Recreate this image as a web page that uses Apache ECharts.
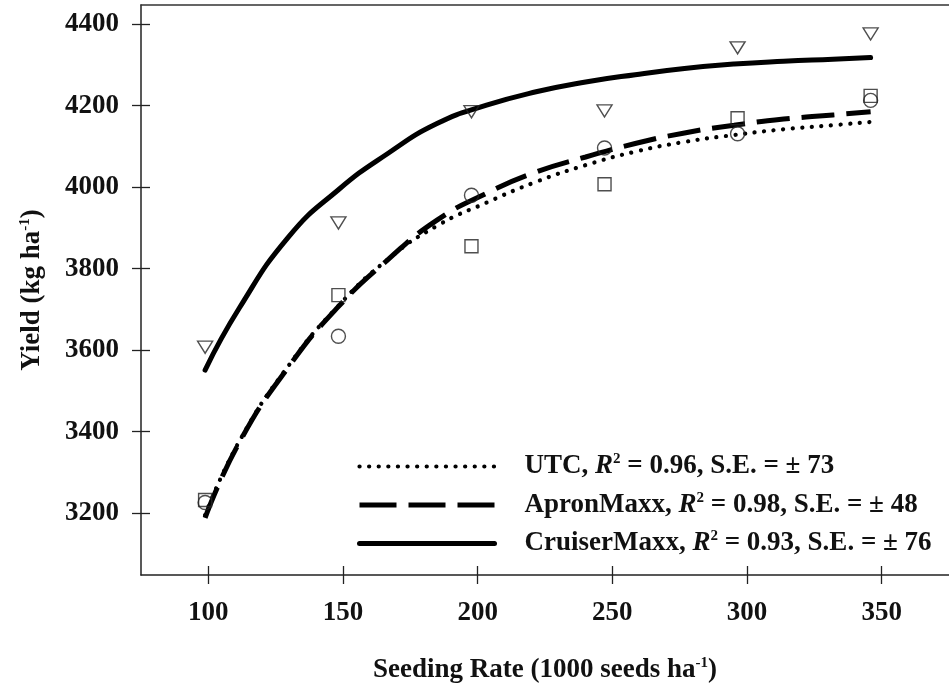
<!DOCTYPE html>
<html>
<head>
<meta charset="utf-8">
<script src="https://cdn.jsdelivr.net/npm/echarts@6/dist/echarts.min.js"></script>
<style>
html,body{margin:0;padding:0;background:#fff;}
#c{width:949px;height:689px;}
</style>
</head>
<body>
<div id="c"></div>
<script>
// Observed means (seeding rate in 1000 seeds/ha)
const rates = [98.8, 148.3, 197.7, 247.1, 296.5, 345.9];
const utcObs = [3226, 3634, 3980, 4096, 4131, 4213];
const apronObs = [3232, 3735, 3855, 4007, 4169, 4224];
const cruiserObs = [3607, 3912, 4185, 4187, 4342, 4376];

// Fitted curves
const fitX = [98.8, 111.4, 129.8, 148.2, 166.5, 184.9, 203.3, 221.7, 240.1, 258.5, 276.8, 295.2, 313.6, 331.9, 345.9];
const utcFit = [3195, 3375, 3562, 3708, 3822, 3905, 3962, 4013, 4054, 4087, 4111, 4128, 4142, 4152, 4160];
const apronFit = [3188, 3372, 3559, 3706, 3821, 3919, 3985, 4037, 4074, 4107, 4133, 4152, 4167, 4177, 4185];
const cruiserFit = [3551, 3702, 3878, 3993, 4082, 4156, 4201, 4234, 4258, 4276, 4291, 4302, 4309, 4314, 4318];

const xTicks = [100, 150, 200, 250, 300, 350];
const yTicks = [3200, 3400, 3600, 3800, 4000, 4200, 4400];

const seriesNames = ['UTC', 'ApronMaxx', 'CruiserMaxx'];
const r2Values = ['0.96', '0.98', '0.93'];
const seValues = ['73', '48', '76'];

const FONT = 'Liberation Serif';
const INK = '#111';
const FS = 27;

function pairs(xs, ys) { return xs.map((x, i) => [x, ys[i]]); }

const dotStyle = { color: '#000', width: 4.2, type: [0.1, 9.5], cap: 'round' };
const dashStyle = { color: '#000', width: 5, type: [33, 12], cap: 'butt' };
const solidStyle = { color: '#000', width: 5, type: 'solid', cap: 'round' };

const gridRect = { left: 141, top: 5, width: 816, height: 570 };
const xRange = { min: 75, max: 375 };
const yRange = { min: 3048, max: 4447 };

const supStyle = { fontFamily: FONT, fontWeight: 'bold', fontSize: 15, color: INK, padding: [0, 0, 14, 0] };
const txtStyle = { fontFamily: FONT, fontWeight: 'bold', fontSize: FS, color: INK };

const chart = echarts.init(document.getElementById('c'), null, { renderer: 'canvas' });

const option = {
  backgroundColor: '#fff',
  animation: false,
  grid: [
    Object.assign({}, gridRect),
    Object.assign({}, gridRect)
  ],
  xAxis: [
    {
      gridIndex: 0, type: 'value', position: 'bottom', min: xRange.min, max: xRange.max,
      splitLine: { show: false },
      axisLine: { show: true, lineStyle: { color: '#222', width: 1.5 } },
      axisTick: { show: true, inside: false, length: 9, customValues: xTicks, lineStyle: { color: '#222', width: 1.3 } },
      axisLabel: { show: true, customValues: xTicks, margin: 25, color: INK, fontFamily: FONT, fontWeight: 'bold', fontSize: FS,
        formatter: v => String(v) },
      name: '{t|Seeding Rate (1000 seeds ha}{sup|-1}{t|)}',
      nameLocation: 'middle', nameGap: 81,
      nameTextStyle: { rich: { t: txtStyle, sup: supStyle } }
    },
    {
      gridIndex: 0, type: 'value', position: 'top', min: xRange.min, max: xRange.max,
      splitLine: { show: false },
      axisLine: { show: true, lineStyle: { color: '#333', width: 1.5 } },
      axisTick: { show: false }, axisLabel: { show: false }
    },
    {
      gridIndex: 1, type: 'value', position: 'bottom', min: xRange.min, max: xRange.max,
      splitLine: { show: false },
      axisLine: { show: false },
      axisTick: { show: true, inside: true, length: 9, customValues: xTicks, lineStyle: { color: '#222', width: 1.3 } },
      axisLabel: { show: false }
    }
  ],
  yAxis: [
    {
      gridIndex: 0, type: 'value', position: 'left', min: yRange.min, max: yRange.max,
      splitLine: { show: false },
      axisLine: { show: true, lineStyle: { color: '#222', width: 1.5 } },
      axisTick: { show: true, inside: false, length: 9, customValues: yTicks, lineStyle: { color: '#222', width: 1.3 } },
      axisLabel: { show: true, customValues: yTicks, margin: 22, color: INK, fontFamily: FONT, fontWeight: 'bold', fontSize: FS,
        formatter: v => String(v) },
      name: '{t|Yield (kg ha}{sup|-1}{t|)}',
      nameLocation: 'middle', nameGap: 94, nameRotate: 90,
      nameTextStyle: { rich: { t: txtStyle, sup: supStyle } }
    },
    {
      gridIndex: 1, type: 'value', position: 'left', min: yRange.min, max: yRange.max,
      splitLine: { show: false },
      axisLine: { show: false },
      axisTick: { show: true, inside: true, length: 9, customValues: yTicks, lineStyle: { color: '#222', width: 1.3 } },
      axisLabel: { show: false }
    }
  ],
  legend: {
    show: true,
    orient: 'vertical',
    left: 352, top: 447,
    itemWidth: 135, itemHeight: 16, itemGap: 9.5,
    selectedMode: false,
    data: [
      { name: seriesNames[0], lineStyle: dotStyle, itemStyle: { opacity: 0 } },
      { name: seriesNames[1], lineStyle: Object.assign({}, dashStyle, { type: [37, 12] }), itemStyle: { opacity: 0 } },
      { name: seriesNames[2], lineStyle: solidStyle, itemStyle: { opacity: 0 } }
    ],
    formatter: function (name) {
      const i = seriesNames.indexOf(name);
      return '{t|' + name + ', }{i|R}{sup|2}{t| = ' + r2Values[i] + ', S.E. = \u00b1 ' + seValues[i] + '}';
    },
    textStyle: {
      padding: [0, 0, 0, 25],
      lineHeight: 28,
      rich: {
        t: Object.assign({ lineHeight: 28 }, txtStyle),
        i: Object.assign({ lineHeight: 28, fontStyle: 'italic' }, txtStyle),
        sup: Object.assign({ lineHeight: 28 }, supStyle)
      }
    }
  },
  series: [
    {
      name: 'UTC', type: 'line', xAxisIndex: 0, yAxisIndex: 0,
      data: pairs(fitX, utcFit), smooth: true, symbol: 'none',
      lineStyle: dotStyle, itemStyle: { color: '#000' }, z: 3
    },
    {
      name: 'ApronMaxx', type: 'line', xAxisIndex: 0, yAxisIndex: 0,
      data: pairs(fitX, apronFit), smooth: true, symbol: 'none',
      lineStyle: dashStyle, itemStyle: { color: '#000' }, z: 3
    },
    {
      name: 'CruiserMaxx', type: 'line', xAxisIndex: 0, yAxisIndex: 0,
      data: pairs(fitX, cruiserFit), smooth: true, symbol: 'none',
      lineStyle: solidStyle, itemStyle: { color: '#000' }, z: 3
    },
    {
      name: 'UTC obs', type: 'scatter', xAxisIndex: 0, yAxisIndex: 0,
      data: pairs(rates, utcObs), symbol: 'circle', symbolSize: 14,
      itemStyle: { color: 'rgba(0,0,0,0)', borderColor: '#222', borderWidth: 1.4 }, z: 4
    },
    {
      name: 'ApronMaxx obs', type: 'scatter', xAxisIndex: 0, yAxisIndex: 0,
      data: pairs(rates, apronObs), symbol: 'rect', symbolSize: 13,
      itemStyle: { color: 'rgba(0,0,0,0)', borderColor: '#222', borderWidth: 1.4 }, z: 4
    },
    {
      name: 'CruiserMaxx obs', type: 'scatter', xAxisIndex: 0, yAxisIndex: 0,
      data: pairs(rates, cruiserObs), symbol: 'triangle', symbolRotate: 180, symbolSize: [15, 12],
      itemStyle: { color: 'rgba(0,0,0,0)', borderColor: '#222', borderWidth: 1.4 }, z: 4
    }
  ]
};
chart.setOption(option);
</script>
</body>
</html>
